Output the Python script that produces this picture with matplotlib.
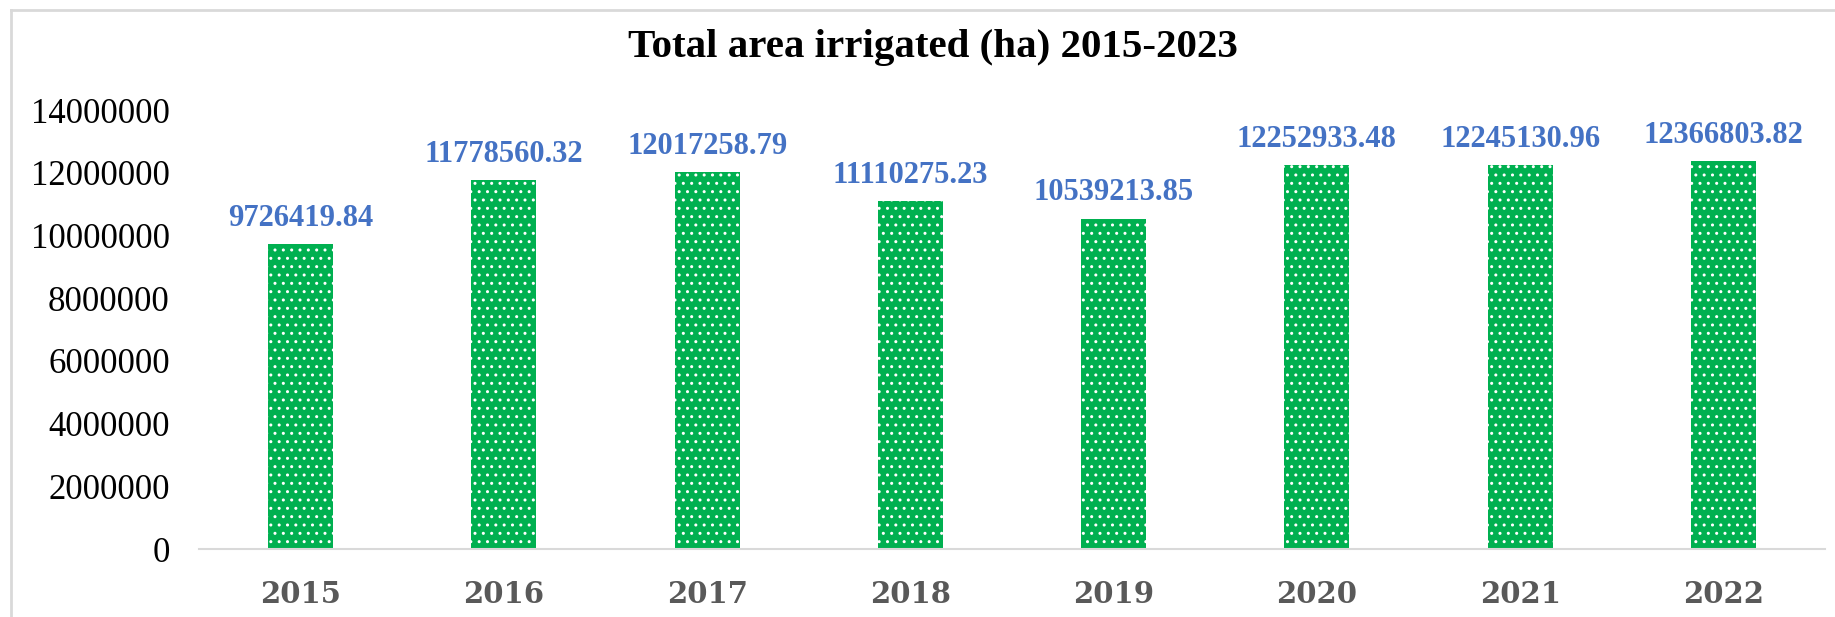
import matplotlib.pyplot as plt
from matplotlib.lines import Line2D

# chart data
years = ["2015", "2016", "2017", "2018", "2019", "2020", "2021", "2022"]
area_ha = [9726419.84, 11778560.32, 12017258.79, 11110275.23,
           10539213.85, 12252933.48, 12245130.96, 12366803.82]
y_ticks = [0, 2000000, 4000000, 6000000, 8000000, 10000000, 12000000, 14000000]

green = "#00B050"
blue = "#4472C4"

fig = plt.figure(figsize=(18.35, 6.17), dpi=100)
ax = fig.add_axes([199 / 1835, 1 - 549 / 617, 1626 / 1835, 439 / 617])

x = range(len(years))
ax.bar(x, area_ha, width=0.32, color=green, edgecolor="white",
       linewidth=0, hatch="..")

for i, v in zip(x, area_ha):
    ax.annotate(f"{v:.2f}", (i, v), xytext=(0, 8), textcoords="offset points",
                ha="center", va="bottom", color=blue, fontsize=22,
                fontweight="bold", family="Liberation Serif")

ax.set_xlim(-0.5, len(years) - 0.5)
ax.set_ylim(0, 14000000)
ax.set_yticks(y_ticks)
ax.set_yticklabels([str(t) for t in y_ticks], family="Liberation Serif",
                   fontsize=25)
ax.set_xticks(list(x))
ax.set_xticklabels(years, family="DejaVu Serif", fontweight="bold",
                   fontsize=21, color="#595959")
ax.tick_params(length=0)
ax.tick_params(axis="y", pad=21)
ax.tick_params(axis="x", pad=22)

for s in ["top", "right", "left"]:
    ax.spines[s].set_visible(False)
ax.spines["bottom"].set_color("#D9D9D9")
ax.spines["bottom"].set_linewidth(1.5)

fig.text(0.5 + 15 / 1835, 1 - 47 / 617, "Total area irrigated (ha) 2015-2023",
         ha="center", va="center", fontsize=29.5, fontweight="bold",
         family="Liberation Serif")

# chart frame (top and left edges visible)
fig.add_artist(Line2D([11 / 1835, 1], [1 - 10 / 617, 1 - 10 / 617],
                      color="#D9D9D9", linewidth=2, transform=fig.transFigure))
fig.add_artist(Line2D([11 / 1835, 11 / 1835], [0, 1 - 10 / 617],
                      color="#D9D9D9", linewidth=2, transform=fig.transFigure))

fig.savefig("out.png", dpi=100)
